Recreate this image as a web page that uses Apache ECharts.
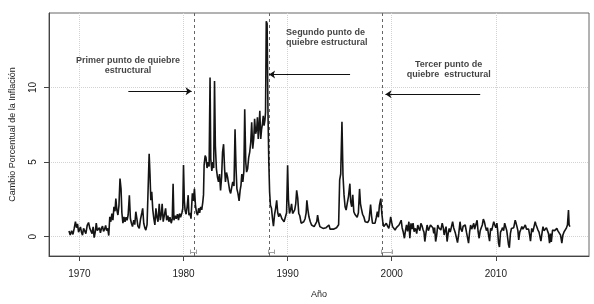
<!DOCTYPE html>
<html><head><meta charset="utf-8">
<script src="https://cdn.jsdelivr.net/npm/echarts@6/dist/echarts.min.js"></script>
<style>html,body{margin:0;padding:0;background:#fff}#c{width:594px;height:304px}</style>
</head><body><div id="c"></div>
<script>
// Monthly inflation change (decimal years)
const dates = [
1969.00,1969.12,1969.25,1969.38,1969.50,1969.62,1969.72,1969.82,1969.92,1970.00,
1970.10,1970.20,1970.30,1970.40,1970.50,1970.62,1970.75,1970.88,1971.00,
1971.10,1971.22,1971.32,1971.42,1971.52,1971.62,1971.72,1971.82,1971.92,1972.02,
1972.12,1972.22,1972.32,1972.42,1972.52,1972.62,1972.72,1972.82,1972.92,1973.02,
1973.12,1973.22,1973.32,1973.42,1973.50,1973.60,1973.70,1973.80,1973.90,1974.00,
1974.08,1974.18,1974.28,1974.38,1974.48,1974.58,1974.68,1974.80,1974.90,1975.00,
1975.10,1975.22,1975.32,1975.42,1975.52,1975.62,1975.75,1975.88,1976.00,1976.08,
1976.18,1976.28,1976.38,1976.50,1976.60,1976.70,1976.78,1976.86,1976.95,1977.05,
1977.15,1977.25,1977.35,1977.45,1977.55,1977.67,1977.77,1977.87,1977.95,1978.05,
1978.15,1978.28,1978.38,1978.50,1978.60,1978.70,1978.82,1978.92,1979.00,1979.08,
1979.20,1979.30,1979.42,1979.52,1979.62,1979.72,1979.85,1979.93,1980.00,1980.08,
1980.15,1980.25,1980.35,1980.45,1980.52,1980.62,1980.72,1980.85,1980.95,1981.05,
1981.15,1981.25,1981.35,1981.45,1981.55,1981.65,1981.75,1981.85,1981.92,1981.98,
1982.08,1982.16,1982.26,1982.36,1982.46,1982.55,1982.62,1982.72,1982.82,1982.90,
1982.98,1983.06,1983.16,1983.26,1983.36,1983.46,1983.56,1983.66,1983.75,1983.85,
1983.95,1984.03,1984.13,1984.23,1984.33,1984.43,1984.53,1984.63,1984.73,1984.85,
1984.95,1985.05,1985.13,1985.23,1985.34,1985.44,1985.52,1985.60,1985.70,1985.80,
1985.88,1985.98,1986.06,1986.16,1986.26,1986.36,1986.46,1986.55,1986.65,1986.75,
1986.83,1986.93,1987.03,1987.10,1987.18,1987.26,1987.33,1987.42,1987.50,1987.58,
1987.66,1987.74,1987.82,1987.88,1987.95,1988.03,1988.11,1988.19,1988.27,1988.35,
1988.45,1988.55,1988.64,1988.75,1988.85,1988.95,1989.05,1989.15,1989.25,1989.35,
1989.45,1989.55,1989.66,1989.78,1989.90,1990.00,1990.08,1990.18,1990.28,1990.38,
1990.48,1990.58,1990.68,1990.78,1990.87,1990.97,1991.07,1991.17,1991.30,1991.42,
1991.55,1991.68,1991.78,1991.85,1991.95,1992.05,1992.18,1992.30,1992.42,1992.55,
1992.68,1992.80,1992.88,1992.98,1993.10,1993.25,1993.40,1993.55,1993.70,1993.85,
1993.97,1994.08,1994.25,1994.40,1994.55,1994.70,1994.80,1994.90,1995.00,1995.10,
1995.22,1995.32,1995.42,1995.52,1995.62,1995.72,1995.85,1995.98,1996.06,1996.16,
1996.26,1996.36,1996.46,1996.56,1996.68,1996.80,1996.91,1997.00,1997.08,1997.20,
1997.32,1997.45,1997.58,1997.70,1997.82,1997.97,1998.06,1998.15,1998.28,1998.40,
1998.52,1998.62,1998.72,1998.82,1998.95,1999.05,1999.14,1999.24,1999.36,1999.48,
1999.60,1999.72,1999.82,1999.90,2000.00,2000.08,2000.20,2000.32,2000.45,2000.58,
2000.70,2000.82,2000.91,2001.00,2001.10,2001.22,2001.32,2001.42,2001.52,2001.65,
2001.74,2001.85,2001.95,2002.05,2002.15,2002.28,2002.40,2002.50,2002.60,2002.70,
2002.80,2002.92,2003.02,2003.10,2003.18,2003.28,2003.40,2003.52,2003.62,2003.72,
2003.85,2003.95,2004.04,2004.12,2004.22,2004.32,2004.42,2004.52,2004.62,2004.72,
2004.85,2004.95,2005.04,2005.12,2005.22,2005.32,2005.42,2005.52,2005.62,2005.72,
2005.85,2005.95,2006.04,2006.12,2006.20,2006.32,2006.44,2006.56,2006.65,2006.76,
2006.86,2006.96,2007.06,2007.18,2007.28,2007.38,2007.48,2007.58,2007.68,2007.78,
2007.88,2007.96,2008.04,2008.12,2008.20,2008.30,2008.40,2008.50,2008.60,2008.70,
2008.80,2008.90,2009.00,2009.10,2009.20,2009.30,2009.40,2009.50,2009.60,2009.70,
2009.80,2009.90,2010.00,2010.10,2010.18,2010.26,2010.35,2010.45,2010.55,2010.65,
2010.75,2010.85,2010.95,2011.05,2011.15,2011.22,2011.30,2011.40,2011.50,2011.60,
2011.72,2011.86,2011.95,2012.03,2012.12,2012.20,2012.30,2012.38,2012.50,2012.60,
2012.70,2012.83,2012.95,2013.05,2013.15,2013.25,2013.33,2013.45,2013.55,2013.65,
2013.78,2013.86,2013.94,2014.05,2014.15,2014.25,2014.33,2014.45,2014.53,2014.63,
2014.74,2014.86,2014.97,2015.06,2015.16,2015.25,2015.33,2015.45,2015.55,2015.65,
2015.75,2015.86,2015.95,2016.05,2016.12,2016.22,2016.34,2016.44,2016.56,2016.66,
2016.76,2016.88,2016.98,2017.04,2017.12
];
const inflation = [
0.38,0.10,0.40,0.15,0.55,1.00,0.60,0.85,0.30,0.22,
0.65,0.30,0.10,0.55,0.40,0.20,0.75,0.95,0.55,
0.45,0.20,0.65,-0.07,0.30,0.90,0.40,0.30,0.60,0.25,
0.55,0.70,0.35,0.50,0.75,0.40,0.55,0.07,1.33,1.00,
1.55,1.10,2.00,1.70,2.55,1.78,1.45,2.10,3.90,3.20,
1.60,0.90,1.33,1.00,1.30,1.10,1.45,2.78,1.20,0.90,
0.67,1.10,0.80,1.67,1.20,0.70,0.55,1.20,1.60,1.90,
0.90,0.60,0.44,0.80,0.90,5.55,4.20,2.44,3.00,1.80,
1.20,0.78,1.90,1.30,1.00,2.20,1.10,1.50,2.20,1.00,
1.10,1.90,1.10,1.40,1.00,1.30,0.90,1.20,3.55,1.10,
1.40,1.20,1.50,1.10,1.55,1.30,1.60,1.90,4.80,2.40,
1.78,1.50,2.00,2.78,1.44,1.60,1.20,2.90,2.40,3.20,
2.10,1.60,1.44,1.90,1.60,2.00,1.80,2.30,2.80,4.80,
5.44,5.30,4.60,5.00,4.70,10.67,5.20,4.40,5.00,4.60,
10.44,6.10,4.55,4.00,3.67,4.20,3.10,4.00,5.67,6.20,
4.50,3.67,4.30,4.00,3.55,3.10,2.90,3.30,3.67,3.40,
7.20,4.50,3.20,2.90,2.40,3.10,3.44,4.20,3.67,4.40,
8.55,5.00,4.33,4.55,5.30,5.67,6.33,7.67,5.90,6.60,
7.90,6.90,7.20,8.00,6.55,7.40,8.44,6.55,7.20,7.55,
8.10,7.44,7.80,8.33,14.44,14.30,8.55,5.10,3.00,2.10,
1.90,1.20,0.70,1.50,1.90,2.44,1.60,1.33,1.55,1.40,
1.20,1.10,1.00,1.30,1.60,4.78,2.50,1.55,1.80,2.20,
1.55,1.50,1.80,2.20,3.10,2.60,1.55,1.40,0.90,0.80,
1.00,1.20,1.60,2.44,1.80,1.33,1.00,0.78,0.90,0.67,
0.80,1.00,1.44,1.00,0.67,0.60,0.55,0.50,0.60,0.55,
0.78,0.50,0.55,0.50,0.55,0.60,0.55,0.80,3.80,4.20,
7.70,4.10,2.80,2.00,1.78,2.20,2.70,3.55,2.33,2.00,
2.80,1.67,1.50,1.44,1.30,1.60,3.20,2.20,1.90,1.50,
1.33,1.00,0.90,0.95,1.10,2.15,1.40,0.90,1.00,0.90,
1.30,1.67,1.30,2.10,2.55,1.55,1.00,0.67,0.60,0.90,
0.70,0.55,0.90,1.33,0.95,0.67,0.55,0.44,0.60,0.70,
0.78,0.70,1.10,0.60,0.33,-0.11,0.40,0.78,0.35,1.00,
-0.11,0.89,0.50,0.90,0.33,0.55,0.20,0.78,0.55,0.40,
0.89,0.70,0.44,0.30,-0.33,0.20,0.78,0.40,0.30,0.78,
0.89,0.60,0.22,0.60,-0.33,0.10,0.78,0.60,0.60,0.44,
0.90,0.60,0.11,0.40,0.67,-0.33,0.20,0.55,0.30,0.60,
1.00,0.60,0.50,0.22,0.20,-0.40,0.20,1.00,0.50,0.33,
0.70,0.60,0.78,0.30,0.33,-0.44,0.30,0.78,0.50,0.70,
0.89,0.50,0.55,0.40,1.10,0.33,-0.11,0.40,0.60,0.78,
1.18,1.00,0.67,0.40,0.60,0.11,-0.30,0.55,0.40,0.70,
1.00,0.78,0.60,0.90,0.40,-0.44,-0.70,0.30,0.44,0.60,
0.40,0.90,1.00,0.40,0.30,-0.55,-0.75,0.20,0.55,0.44,
0.60,1.10,0.89,0.67,0.40,-0.22,0.30,0.44,0.67,0.50,
0.60,0.78,0.50,0.44,0.50,0.10,-0.30,0.55,0.30,0.60,
1.00,0.80,0.90,0.44,0.30,0.20,-0.30,0.30,0.67,0.40,
0.33,0.60,0.55,0.20,-0.44,0.20,-0.35,0.44,0.33,0.40,
0.30,0.55,0.40,0.33,0.30,0.10,-0.44,0.10,0.33,0.20,
0.55,0.78,1.78,0.78,0.67
];
const xTicks = [1970, 1980, 1990, 2000, 2010];
const yTicks = [0, 5, 10];
const breakDates = [1981.06, 1988.25, 1999.09];
const ciLower = [1980.63, 1988.12, 1998.99];
const ciUpper = [1981.18, 1988.76, 2000.01];
const ciLevel = -1.02;
const noteText = ['Primer punto de quiebre\nestructural', 'Segundo punto de\n quiebre estructural', 'Tercer punto de\nquiebre  estructural'];
const noteX = [1974.67, 1993.65, 2005.47];
const noteY = [11.49, 13.33, 11.22];
const arrowFrom = [[1974.7, 9.75], [1996.0, 10.87], [2008.5, 9.55]];
const arrowTo = [[1980.78, 9.75], [1988.22, 10.87], [1999.4, 9.55]];

const FONT = '"Liberation Sans", Arial, Helvetica, sans-serif';
const chart = echarts.init(document.getElementById('c'), null, {renderer: 'canvas'});
const lineData = dates.map((d, i) => [d, inflation[i]]);

const ciLines = [];
ciLower.forEach((lo, i) => {
  const hi = ciUpper[i];
  ciLines.push([{coord: [lo, ciLevel]}, {coord: [hi, ciLevel]}]);
  ciLines.push([{coord: [lo, ciLevel - 0.15]}, {coord: [lo, ciLevel + 0.15]}]);
  ciLines.push([{coord: [hi, ciLevel - 0.15]}, {coord: [hi, ciLevel + 0.15]}]);
});

const option = {
  animation: false,
  grid: {left: 48, right: 5, top: 13, bottom: 46, show: true, borderColor: '#666', borderWidth: 1},
  xAxis: {
    type: 'value', min: 1967.08, max: 2018.95,
    name: 'Año', nameLocation: 'middle', nameGap: 34,
    nameTextStyle: {fontFamily: FONT, fontSize: 9, color: '#222'},
    axisLine: {show: true, onZero: false, lineStyle: {color: '#444', width: 1}},
    axisTick: {show: true, customValues: xTicks, length: 5, lineStyle: {color: '#444'}},
    axisLabel: {customValues: xTicks, margin: 13, fontFamily: FONT, fontSize: 10, color: '#222', formatter: v => String(v)},
    splitLine: {show: false}
  },
  yAxis: {
    type: 'value', min: -1.3, max: 15,
    name: 'Cambio Porcentual de la Inflación', nameLocation: 'middle', nameRotate: 90, nameGap: 32,
    nameTextStyle: {fontFamily: FONT, fontSize: 9, color: '#222'},
    axisLine: {show: true, onZero: false, lineStyle: {color: '#444', width: 1}},
    axisTick: {show: true, customValues: yTicks, length: 5, lineStyle: {color: '#444'}},
    axisLabel: {customValues: yTicks, rotate: 90, margin: 11, fontFamily: FONT, fontSize: 10, color: '#222', formatter: v => String(v)},
    splitLine: {show: false}
  },
  series: [
    {
      name: 'grid', type: 'line', data: [], z: 0, zlevel: 0, silent: true,
      markLine: {
        silent: true, z: 0, symbol: ['none', 'none'], label: {show: false},
        lineStyle: {color: '#d3d3d3', type: 'dotted', width: 1},
        data: xTicks.map(t => ({xAxis: t})).concat(yTicks.map(t => ({yAxis: t})))
      }
    },
    {
      name: 'breaks', type: 'line', data: [], z: 4, silent: true,
      markLine: {
        silent: true, symbol: ['none', 'none'], label: {show: false},
        lineStyle: {color: '#666', type: [3, 3], width: 1},
        data: breakDates.map(b => ({xAxis: b}))
      }
    },
    {
      name: 'Inflación', type: 'line', data: lineData, z: 10,
      showSymbol: false, symbol: 'none',
      lineStyle: {color: '#141414', width: 1.6}
    },
    {
      name: 'ci', type: 'line', data: [], z: 4, silent: true,
      markLine: {
        silent: true, symbol: ['none', 'none'], label: {show: false},
        lineStyle: {color: '#a0a0a0', type: 'solid', width: 1},
        data: ciLines
      }
    },
    {
      name: 'arrows', type: 'line', data: [], z: 12, silent: true,
      markLine: {
        silent: true, symbol: ['none', 'arrow'], symbolSize: 6, label: {show: false},
        itemStyle: {color: '#111'},
        lineStyle: {color: '#111', type: 'solid', width: 1},
        data: arrowFrom.map((f, i) => [{coord: f}, {coord: arrowTo[i]}])
      }
    },
    {
      name: 'notes', type: 'scatter', z: 12, silent: true,
      symbolSize: 1, itemStyle: {color: 'rgba(0,0,0,0)'},
      data: noteX.map((x, i) => [x, noteY[i]]),
      label: {
        show: true, position: 'inside', formatter: p => noteText[p.dataIndex],
        fontFamily: FONT, fontSize: 9, fontWeight: 'bold', color: '#111',
        lineHeight: 10, align: 'center', verticalAlign: 'middle'
      }
    }
  ]
};
chart.setOption(option);
</script>
</body></html>
